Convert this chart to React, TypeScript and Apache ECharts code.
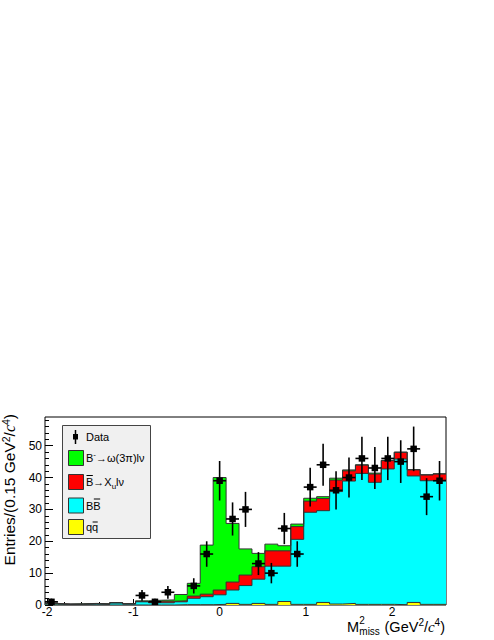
import React, { useEffect, useRef } from "react";
import * as echarts from "echarts";

// ---- data ----
const binCenters = [
  -1.95, -1.8, -1.65, -1.5, -1.35, -1.2, -1.05, -0.9, -0.75, -0.6, -0.45,
  -0.3, -0.15, 0.0, 0.15, 0.3, 0.45, 0.6, 0.75, 0.9, 1.05, 1.2, 1.35, 1.5,
  1.65, 1.8, 1.95, 2.1, 2.25, 2.4, 2.55,
];
const binHalfWidth = 0.075;

// components of the stack (bottom to top)
const qqbar = [
  0.05, 0, 0, 0, 0, 0, 0, 0, 0, 0, 0.1, 0.1, 0.1, 0.2, 0.5, 0.2, 0.5, 0.2,
  1.1, 0.2, 0.2, 0.8, 0.3, 0.5, 0.2, 0.2, 0.2, 0.1, 0.8, 0.2, 0.2,
];
const bbbar = [
  0.35, 0.2, 0.2, 0.3, 0.2, 0.7, 0.3, 1.0, 0.7, 0.7, 0.9, 2.0, 2.5, 3.0, 4.2,
  5.9, 7.6, 12.0, 11.1, 20.4, 28.9, 28.8, 35.3, 38.4, 41.1, 38.3, 42.5, 45.7,
  39.7, 38.8, 39.0,
];
const xulnu = [
  0.1, 0.1, 0.1, 0.1, 0.1, 0, 0.1, 0.1, 0.5, 0.5, 0.3, 0.7, 0.8, 1.5, 2.5,
  3.3, 3.9, 4.8, 4.8, 4.0, 3.5, 3.8, 3.6, 3.2, 2.6, 2.6, 2.6, 2.1, 1.9, 1.8,
  1.9,
];
const signal = [
  0.1, 0, 0.1, 0.1, 0.1, 0, 0, 0.2, 0.3, 0.4, 2.0, 4.0, 15.4, 35.3, 18.4,
  8.2, 4.2, 2.1, 1.6, 0.8, 0.9, 0.6, 0.6, 0.3, 0.1, 0.3, 0.1, 0.1, 0.1, 0.1,
  0.1,
];

const dataCounts: (number | null)[] = [
  1, null, null, null, null, null, null, 3, 1, 4, null, 6, 16, 39, 27, 30, 13,
  10, 24, 16, 37, 44, 36, 40, 46, 43, 46, 45, 49, 34, 39,
];
const dataErrors: (number | null)[] = [
  1, null, null, null, null, null, null, 1.7, 1, 2, null, 2.4, 4, 6.2, 5.2,
  5.5, 3.6, 3.2, 4.9, 4, 6.1, 6.6, 6, 6.3, 6.8, 6.6, 6.8, 6.7, 7, 5.8, 6.2,
];

const xMajorTicks = [-2, -1, 0, 1, 2];
const xMinorTicks = [
  -1.8, -1.6, -1.4, -1.2, -0.8, -0.6, -0.4, -0.2, 0.2, 0.4, 0.6, 0.8, 1.2,
  1.4, 1.6, 1.8, 2.2, 2.4, 2.6,
];
const yMajorTicks = [0, 10, 20, 30, 40, 50];
const yMinorTicks = [
  2, 4, 6, 8, 12, 14, 16, 18, 22, 24, 26, 28, 32, 34, 36, 38, 42, 44, 46, 48,
  52, 54, 56, 58,
];
const xMin = -2.025;
const xMax = 2.625;
const yMin = 0;
const yMax = 59;

const FONT = "'Liberation Sans', Arial, Helvetica, sans-serif";
const SERIF = "'Liberation Serif', 'Times New Roman', serif";

function stepPoints(values: number[]) {
  const pts: number[][] = [];
  values.forEach((v, i) => {
    pts.push([binCenters[i] - binHalfWidth, v]);
    pts.push([binCenters[i] + binHalfWidth, v]);
  });
  return pts;
}

export default function App() {
  const ref = useRef<HTMLDivElement>(null);
  useEffect(() => {
    if (!ref.current) return;
    const chart = echarts.init(ref.current, undefined, { renderer: "svg" });

    const cumYellow = qqbar.slice();
    const cumCyan = cumYellow.map((v, i) => v + bbbar[i]);
    const cumRed = cumCyan.map((v, i) => v + xulnu[i]);
    const cumGreen = cumRed.map((v, i) => v + signal[i]);

    const layers = [
      { name: "signal", values: cumGreen, color: "#00ff00" },
      { name: "xulnu", values: cumRed, color: "#ff0000" },
      { name: "bbbar", values: cumCyan, color: "#00ffff" },
      { name: "qqbar", values: cumYellow, color: "#ffff00" },
    ];

    const pointData: number[][] = [];
    binCenters.forEach((c, i) => {
      const n = dataCounts[i];
      const e = dataErrors[i];
      if (n !== null && e !== null) pointData.push([c, n, e]);
    });

    const axisCommon = {
      type: "value" as const,
      splitLine: { show: false },
      axisLine: { show: false, onZero: false },
    };

    const legendX = 62.5;
    const legendY = 425.5;
    const textX = 86;
    const legFont = 11;
    const richLeg = {
      a: { fontSize: legFont, fontFamily: FONT, lineHeight: 16, verticalAlign: "middle", fill: "#000" },
      s: { fontSize: 8, fontFamily: FONT, lineHeight: 8, verticalAlign: "top", fill: "#000" },
      d: { fontSize: 8, fontFamily: FONT, lineHeight: 8, verticalAlign: "bottom", fill: "#000" },
    };
    const bW = legFont * 0.667;
    const qW = legFont * 0.556;

    const legendBoxes = [
      { y: 458, color: "#00ff00", text: "{a|B}{s|-}{a|→ω(3π)lν}" },
      { y: 482, color: "#ff0000", text: "{a|B→X}{d|u}{a|lν}" },
      { y: 505.5, color: "#00ffff", text: "{a|BB}" },
      { y: 527, color: "#ffff00", text: "{a|qq}" },
    ];

    const graphic: any[] = [
      {
        type: "rect",
        shape: { x: legendX, y: legendY, width: 88, height: 113 },
        style: { fill: "#f0f0f0", stroke: "#444", lineWidth: 1 },
        z: 10,
      },
      {
        type: "line",
        shape: { x1: 75.5, y1: 430, x2: 75.5, y2: 444 },
        style: { stroke: "#000", lineWidth: 1.5 },
        z: 11,
      },
      {
        type: "rect",
        shape: { x: 73, y: 434, width: 5, height: 5.5 },
        style: { fill: "#000" },
        z: 11,
      },
      {
        type: "text",
        x: textX,
        y: 437,
        style: {
          text: "Data",
          fontSize: legFont,
          fontFamily: FONT,
          fill: "#000",
          textVerticalAlign: "middle",
          verticalAlign: "middle",
        },
        z: 11,
      },
    ];
    legendBoxes.forEach((b) => {
      graphic.push({
        type: "rect",
        shape: { x: 68.5, y: b.y - 7.5, width: 15, height: 15 },
        style: { fill: b.color, stroke: "#333", lineWidth: 1 },
        z: 11,
      });
      graphic.push({
        type: "text",
        x: textX,
        y: b.y,
        style: {
          text: b.text,
          rich: richLeg,
          textVerticalAlign: "middle",
          verticalAlign: "middle",
        },
        z: 11,
      });
    });
    // overlines (anti-particles)
    const overlines = [
      [textX, textX + bW, 475.5],
      [textX + bW, textX + 2 * bW, 499],
      [textX + qW, textX + 2 * qW, 522],
    ];
    overlines.forEach(([a, b, y]) => {
      graphic.push({
        type: "line",
        shape: { x1: a + 0.5, y1: y, x2: b - 0.5, y2: y },
        style: { stroke: "#000", lineWidth: 1 },
        z: 11,
      });
    });

    // y axis title
    graphic.push({
      type: "text",
      x: 9,
      y: 414,
      rotation: Math.PI / 2,
      style: {
        text: "{a|Entries/(0.15 GeV}{s|2}{a|/}{c|c}{s|4}{a|)}",
        rich: {
          a: { fontSize: 15.5, fontFamily: FONT, lineHeight: 18, verticalAlign: "middle", fill: "#000" },
          c: { fontSize: 16, fontFamily: SERIF, fontStyle: "italic", lineHeight: 18, verticalAlign: "middle", fill: "#000" },
          s: { fontSize: 10.5, fontFamily: FONT, lineHeight: 10, verticalAlign: "top", fill: "#000" },
        },
        textAlign: "right",
        align: "right",
        textVerticalAlign: "middle",
        verticalAlign: "middle",
      },
    });

    // x axis title
    const mx = 347;
    graphic.push(
      {
        type: "text",
        x: mx,
        y: 626.5,
        style: { text: "M", fontSize: 14.5, fontFamily: FONT, fill: "#000", textVerticalAlign: "middle", verticalAlign: "middle" },
      },
      {
        type: "text",
        x: mx + 12.3,
        y: 620.5,
        style: { text: "2", fontSize: 10, fontFamily: FONT, fill: "#000", textVerticalAlign: "middle", verticalAlign: "middle" },
      },
      {
        type: "text",
        x: mx + 12.3,
        y: 631.5,
        style: { text: "miss", fontSize: 10, fontFamily: FONT, fill: "#000", textVerticalAlign: "middle", verticalAlign: "middle" },
      },
      {
        type: "text",
        x: 445,
        y: 626.5,
        style: {
          text: "{a|(GeV}{s|2}{a|/}{c|c}{s|4}{a|)}",
          rich: {
            a: { fontSize: 14.5, fontFamily: FONT, lineHeight: 18, verticalAlign: "middle", fill: "#000" },
            c: { fontSize: 15, fontFamily: SERIF, fontStyle: "italic", lineHeight: 18, verticalAlign: "middle", fill: "#000" },
            s: { fontSize: 10, fontFamily: FONT, lineHeight: 10, verticalAlign: "top", fill: "#000" },
          },
          textAlign: "right",
          align: "right",
          textVerticalAlign: "middle",
          verticalAlign: "middle",
        },
      }
    );

    const series: any[] = layers.map((l) => ({
      type: "line",
      name: l.name,
      data: stepPoints(l.values),
      xAxisIndex: 0,
      yAxisIndex: 0,
      symbol: "none",
      showSymbol: false,
      lineStyle: { color: "#333", width: 1 },
      areaStyle: { color: l.color, opacity: 1, origin: "start" },
      silent: true,
    }));

    series.push({
      type: "custom",
      name: "Data",
      xAxisIndex: 0,
      yAxisIndex: 0,
      data: pointData,
      z: 5,
      renderItem: (params: any, api: any) => {
        const x = api.value(0);
        const y = api.value(1);
        const e = api.value(2);
        const p = api.coord([x, y]);
        const top = api.coord([x, y + e]);
        const bot = api.coord([x, Math.max(0, y - e)]);
        const l = api.coord([x - binHalfWidth, y]);
        const r = api.coord([x + binHalfWidth, y]);
        const s = 6.5;
        return {
          type: "group",
          children: [
            {
              type: "line",
              shape: { x1: p[0], y1: top[1], x2: p[0], y2: bot[1] },
              style: { stroke: "#000", lineWidth: 1.6 },
            },
            {
              type: "line",
              shape: { x1: l[0], y1: p[1], x2: r[0], y2: p[1] },
              style: { stroke: "#000", lineWidth: 1.6 },
            },
            {
              type: "rect",
              shape: { x: p[0] - s / 2, y: p[1] - s / 2, width: s, height: s },
              style: { fill: "#000" },
            },
          ],
        };
      },
    });

    chart.setOption({
      animation: false,
      backgroundColor: "#ffffff",
      textStyle: { fontFamily: FONT },
      grid: {
        left: 45,
        right: 48,
        top: 417,
        bottom: 35,
        show: true,
        borderColor: "#000",
        borderWidth: 1,
        backgroundColor: "transparent",
        z: 3,
      },
      xAxis: [
        {
          ...axisCommon,
          min: xMin,
          max: xMax,
          position: "bottom",
          axisTick: {
            show: true,
            inside: true,
            length: 6,
            customValues: xMajorTicks,
            lineStyle: { color: "#000", width: 1 },
          },
          axisLabel: {
            customValues: xMajorTicks,
            fontSize: 12,
            color: "#000",
            margin: 1,
            fontFamily: FONT,
            formatter: (v: number) => String(v),
          },
        },
        {
          ...axisCommon,
          min: xMin,
          max: xMax,
          position: "bottom",
          axisTick: {
            show: true,
            inside: true,
            length: 3,
            customValues: xMinorTicks,
            lineStyle: { color: "#000", width: 1 },
          },
          axisLabel: { show: false },
        },
      ],
      yAxis: [
        {
          ...axisCommon,
          min: yMin,
          max: yMax,
          position: "left",
          axisTick: {
            show: true,
            inside: true,
            length: 8,
            customValues: yMajorTicks,
            lineStyle: { color: "#000", width: 1 },
          },
          axisLabel: {
            customValues: yMajorTicks,
            fontSize: 12,
            color: "#000",
            margin: 3,
            fontFamily: FONT,
          },
        },
        {
          ...axisCommon,
          min: yMin,
          max: yMax,
          position: "left",
          axisTick: {
            show: true,
            inside: true,
            length: 4,
            customValues: yMinorTicks,
            lineStyle: { color: "#000", width: 1 },
          },
          axisLabel: { show: false },
        },
      ],
      series,
      graphic,
    });

    return () => chart.dispose();
  }, []);

  return (
    <div
      ref={ref}
      style={{ position: "absolute", left: 0, top: 0, width: 494, height: 640 }}
    />
  );
}
